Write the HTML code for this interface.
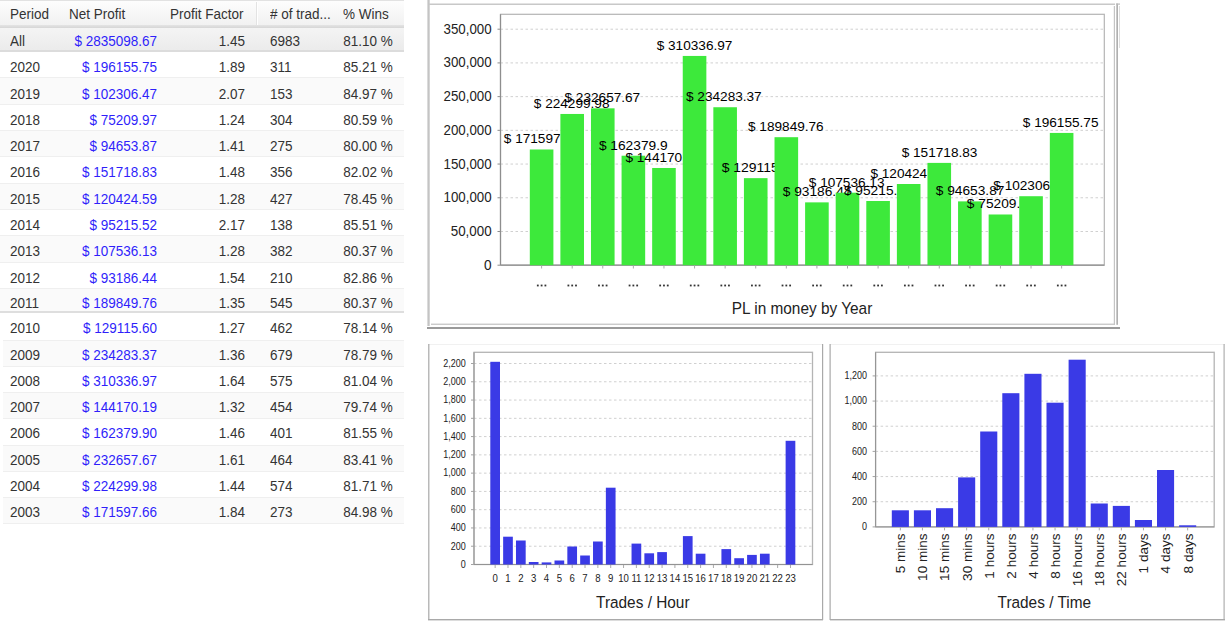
<!DOCTYPE html>
<html><head><meta charset="utf-8"><style>
html,body{margin:0;padding:0;background:#fff;width:1230px;height:629px;overflow:hidden;position:relative}
body{font-family:"Liberation Sans", sans-serif}
.t{position:absolute;white-space:nowrap;line-height:1;font-family:"Liberation Sans", sans-serif;transform:scaleY(1.08)}
svg{position:absolute;left:0;top:0}
svg text{font-family:"Liberation Sans", sans-serif}
</style></head><body>
<div style="position:absolute;left:0;top:0;width:404px;height:1px;background:#e2e2e2"></div><div style="position:absolute;left:0;top:1px;width:404px;height:24px;background:linear-gradient(#fdfdfd,#f1f1f1)"></div><div style="position:absolute;left:0;top:25px;width:404px;height:3px;background:linear-gradient(#e4e4e4,#d6d6d6)"></div><div style="position:absolute;left:256px;top:2px;width:1px;height:23px;background:#e3e3e3"></div><div style="position:absolute;left:257px;top:2px;width:1px;height:23px;background:#ffffff"></div><div class="t" style="left:10px;top:8.47px;color:#333;font-size:13.5px;transform-origin:0 11.43px">Period</div><div class="t" style="left:69px;top:8.47px;color:#333;font-size:13.5px;transform-origin:0 11.43px">Net Profit</div><div class="t" style="left:170px;top:8.47px;color:#333;font-size:13.5px;transform-origin:0 11.43px">Profit Factor</div><div class="t" style="left:270px;top:8.47px;color:#333;font-size:13.5px;transform-origin:0 11.43px"># of trad...</div><div class="t" style="left:343px;top:8.47px;color:#333;font-size:13.5px;transform-origin:0 11.43px">% Wins</div><div style="position:absolute;left:0;top:28px;width:404px;height:22.5px;background:linear-gradient(#f4f4f4,#ebebeb)"></div><div style="position:absolute;left:0;top:50.3px;width:404px;height:1.6px;background:#dcdcdc"></div><div class="t" style="left:10px;top:34.67px;color:#333;font-size:13.5px;transform-origin:0 11.43px">All</div><div class="t" style="right:1073px;top:34.67px;color:#2f1ffa;font-size:13.5px;text-align:right;transform-origin:0 11.43px">$ 2835098.67</div><div class="t" style="right:985px;top:34.67px;color:#333;font-size:13.5px;text-align:right;transform-origin:0 11.43px">1.45</div><div class="t" style="left:270px;top:34.67px;color:#333;font-size:13.5px;transform-origin:0 11.43px">6983</div><div class="t" style="right:837.2px;top:34.67px;color:#333;font-size:13.5px;text-align:right;transform-origin:0 11.43px">81.10 %</div><div style="position:absolute;left:0px;top:51.90px;width:404px;height:26.00px;background:#ffffff"></div><div style="position:absolute;left:0px;top:77.40px;width:404px;height:1px;background:#efefef"></div><div class="t" style="left:10px;top:61.27px;color:#333;font-size:13.5px;transform-origin:0 11.43px">2020</div><div class="t" style="right:1073px;top:61.27px;color:#2f1ffa;font-size:13.5px;text-align:right;transform-origin:0 11.43px">$ 196155.75</div><div class="t" style="right:985px;top:61.27px;color:#333;font-size:13.5px;text-align:right;transform-origin:0 11.43px">1.89</div><div class="t" style="left:270px;top:61.27px;color:#333;font-size:13.5px;transform-origin:0 11.43px">311</div><div class="t" style="right:837.2px;top:61.27px;color:#333;font-size:13.5px;text-align:right;transform-origin:0 11.43px">85.21 %</div><div style="position:absolute;left:0px;top:78.40px;width:404px;height:25.80px;background:#fafafa"></div><div style="position:absolute;left:0px;top:103.70px;width:404px;height:1px;background:#efefef"></div><div class="t" style="left:10px;top:87.57px;color:#333;font-size:13.5px;transform-origin:0 11.43px">2019</div><div class="t" style="right:1073px;top:87.57px;color:#2f1ffa;font-size:13.5px;text-align:right;transform-origin:0 11.43px">$ 102306.47</div><div class="t" style="right:985px;top:87.57px;color:#333;font-size:13.5px;text-align:right;transform-origin:0 11.43px">2.07</div><div class="t" style="left:270px;top:87.57px;color:#333;font-size:13.5px;transform-origin:0 11.43px">153</div><div class="t" style="right:837.2px;top:87.57px;color:#333;font-size:13.5px;text-align:right;transform-origin:0 11.43px">84.97 %</div><div style="position:absolute;left:0px;top:104.70px;width:404px;height:25.80px;background:#ffffff"></div><div style="position:absolute;left:0px;top:130.00px;width:404px;height:1px;background:#efefef"></div><div class="t" style="left:10px;top:113.87px;color:#333;font-size:13.5px;transform-origin:0 11.43px">2018</div><div class="t" style="right:1073px;top:113.87px;color:#2f1ffa;font-size:13.5px;text-align:right;transform-origin:0 11.43px">$ 75209.97</div><div class="t" style="right:985px;top:113.87px;color:#333;font-size:13.5px;text-align:right;transform-origin:0 11.43px">1.24</div><div class="t" style="left:270px;top:113.87px;color:#333;font-size:13.5px;transform-origin:0 11.43px">304</div><div class="t" style="right:837.2px;top:113.87px;color:#333;font-size:13.5px;text-align:right;transform-origin:0 11.43px">80.59 %</div><div style="position:absolute;left:0px;top:131.00px;width:404px;height:25.80px;background:#fafafa"></div><div style="position:absolute;left:0px;top:156.30px;width:404px;height:1px;background:#efefef"></div><div class="t" style="left:10px;top:140.17px;color:#333;font-size:13.5px;transform-origin:0 11.43px">2017</div><div class="t" style="right:1073px;top:140.17px;color:#2f1ffa;font-size:13.5px;text-align:right;transform-origin:0 11.43px">$ 94653.87</div><div class="t" style="right:985px;top:140.17px;color:#333;font-size:13.5px;text-align:right;transform-origin:0 11.43px">1.41</div><div class="t" style="left:270px;top:140.17px;color:#333;font-size:13.5px;transform-origin:0 11.43px">275</div><div class="t" style="right:837.2px;top:140.17px;color:#333;font-size:13.5px;text-align:right;transform-origin:0 11.43px">80.00 %</div><div style="position:absolute;left:0px;top:157.30px;width:404px;height:25.80px;background:#ffffff"></div><div style="position:absolute;left:0px;top:182.60px;width:404px;height:1px;background:#efefef"></div><div class="t" style="left:10px;top:166.47px;color:#333;font-size:13.5px;transform-origin:0 11.43px">2016</div><div class="t" style="right:1073px;top:166.47px;color:#2f1ffa;font-size:13.5px;text-align:right;transform-origin:0 11.43px">$ 151718.83</div><div class="t" style="right:985px;top:166.47px;color:#333;font-size:13.5px;text-align:right;transform-origin:0 11.43px">1.48</div><div class="t" style="left:270px;top:166.47px;color:#333;font-size:13.5px;transform-origin:0 11.43px">356</div><div class="t" style="right:837.2px;top:166.47px;color:#333;font-size:13.5px;text-align:right;transform-origin:0 11.43px">82.02 %</div><div style="position:absolute;left:0px;top:183.60px;width:404px;height:25.80px;background:#fafafa"></div><div style="position:absolute;left:0px;top:208.90px;width:404px;height:1px;background:#efefef"></div><div class="t" style="left:10px;top:192.77px;color:#333;font-size:13.5px;transform-origin:0 11.43px">2015</div><div class="t" style="right:1073px;top:192.77px;color:#2f1ffa;font-size:13.5px;text-align:right;transform-origin:0 11.43px">$ 120424.59</div><div class="t" style="right:985px;top:192.77px;color:#333;font-size:13.5px;text-align:right;transform-origin:0 11.43px">1.28</div><div class="t" style="left:270px;top:192.77px;color:#333;font-size:13.5px;transform-origin:0 11.43px">427</div><div class="t" style="right:837.2px;top:192.77px;color:#333;font-size:13.5px;text-align:right;transform-origin:0 11.43px">78.45 %</div><div style="position:absolute;left:0px;top:209.90px;width:404px;height:25.80px;background:#ffffff"></div><div style="position:absolute;left:0px;top:235.20px;width:404px;height:1px;background:#efefef"></div><div class="t" style="left:10px;top:219.07px;color:#333;font-size:13.5px;transform-origin:0 11.43px">2014</div><div class="t" style="right:1073px;top:219.07px;color:#2f1ffa;font-size:13.5px;text-align:right;transform-origin:0 11.43px">$ 95215.52</div><div class="t" style="right:985px;top:219.07px;color:#333;font-size:13.5px;text-align:right;transform-origin:0 11.43px">2.17</div><div class="t" style="left:270px;top:219.07px;color:#333;font-size:13.5px;transform-origin:0 11.43px">138</div><div class="t" style="right:837.2px;top:219.07px;color:#333;font-size:13.5px;text-align:right;transform-origin:0 11.43px">85.51 %</div><div style="position:absolute;left:0px;top:236.20px;width:404px;height:25.80px;background:#fafafa"></div><div style="position:absolute;left:0px;top:261.50px;width:404px;height:1px;background:#efefef"></div><div class="t" style="left:10px;top:245.37px;color:#333;font-size:13.5px;transform-origin:0 11.43px">2013</div><div class="t" style="right:1073px;top:245.37px;color:#2f1ffa;font-size:13.5px;text-align:right;transform-origin:0 11.43px">$ 107536.13</div><div class="t" style="right:985px;top:245.37px;color:#333;font-size:13.5px;text-align:right;transform-origin:0 11.43px">1.28</div><div class="t" style="left:270px;top:245.37px;color:#333;font-size:13.5px;transform-origin:0 11.43px">382</div><div class="t" style="right:837.2px;top:245.37px;color:#333;font-size:13.5px;text-align:right;transform-origin:0 11.43px">80.37 %</div><div style="position:absolute;left:0px;top:262.50px;width:404px;height:25.80px;background:#ffffff"></div><div style="position:absolute;left:0px;top:287.80px;width:404px;height:1px;background:#efefef"></div><div class="t" style="left:10px;top:271.67px;color:#333;font-size:13.5px;transform-origin:0 11.43px">2012</div><div class="t" style="right:1073px;top:271.67px;color:#2f1ffa;font-size:13.5px;text-align:right;transform-origin:0 11.43px">$ 93186.44</div><div class="t" style="right:985px;top:271.67px;color:#333;font-size:13.5px;text-align:right;transform-origin:0 11.43px">1.54</div><div class="t" style="left:270px;top:271.67px;color:#333;font-size:13.5px;transform-origin:0 11.43px">210</div><div class="t" style="right:837.2px;top:271.67px;color:#333;font-size:13.5px;text-align:right;transform-origin:0 11.43px">82.86 %</div><div style="position:absolute;left:0px;top:288.80px;width:404px;height:23.50px;background:#fafafa"></div><div style="position:absolute;left:0px;top:311.30px;width:404px;height:2px;background:#dedede"></div><div class="t" style="left:10px;top:296.87px;color:#333;font-size:13.5px;transform-origin:0 11.43px">2011</div><div class="t" style="right:1073px;top:296.87px;color:#2f1ffa;font-size:13.5px;text-align:right;transform-origin:0 11.43px">$ 189849.76</div><div class="t" style="right:985px;top:296.87px;color:#333;font-size:13.5px;text-align:right;transform-origin:0 11.43px">1.35</div><div class="t" style="left:270px;top:296.87px;color:#333;font-size:13.5px;transform-origin:0 11.43px">545</div><div class="t" style="right:837.2px;top:296.87px;color:#333;font-size:13.5px;text-align:right;transform-origin:0 11.43px">80.37 %</div><div style="position:absolute;left:3px;top:313.30px;width:401px;height:26.70px;background:#ffffff"></div><div style="position:absolute;left:3px;top:339.50px;width:401px;height:1px;background:#efefef"></div><div class="t" style="left:10px;top:322.27px;color:#333;font-size:13.5px;transform-origin:0 11.43px">2010</div><div class="t" style="right:1073px;top:322.27px;color:#2f1ffa;font-size:13.5px;text-align:right;transform-origin:0 11.43px">$ 129115.60</div><div class="t" style="right:985px;top:322.27px;color:#333;font-size:13.5px;text-align:right;transform-origin:0 11.43px">1.27</div><div class="t" style="left:270px;top:322.27px;color:#333;font-size:13.5px;transform-origin:0 11.43px">462</div><div class="t" style="right:837.2px;top:322.27px;color:#333;font-size:13.5px;text-align:right;transform-origin:0 11.43px">78.14 %</div><div style="position:absolute;left:3px;top:340.50px;width:401px;height:25.77px;background:#fafafa"></div><div style="position:absolute;left:3px;top:365.77px;width:401px;height:1px;background:#efefef"></div><div class="t" style="left:10px;top:348.54px;color:#333;font-size:13.5px;transform-origin:0 11.43px">2009</div><div class="t" style="right:1073px;top:348.54px;color:#2f1ffa;font-size:13.5px;text-align:right;transform-origin:0 11.43px">$ 234283.37</div><div class="t" style="right:985px;top:348.54px;color:#333;font-size:13.5px;text-align:right;transform-origin:0 11.43px">1.36</div><div class="t" style="left:270px;top:348.54px;color:#333;font-size:13.5px;transform-origin:0 11.43px">679</div><div class="t" style="right:837.2px;top:348.54px;color:#333;font-size:13.5px;text-align:right;transform-origin:0 11.43px">78.79 %</div><div style="position:absolute;left:3px;top:366.77px;width:401px;height:25.77px;background:#ffffff"></div><div style="position:absolute;left:3px;top:392.04px;width:401px;height:1px;background:#efefef"></div><div class="t" style="left:10px;top:374.81px;color:#333;font-size:13.5px;transform-origin:0 11.43px">2008</div><div class="t" style="right:1073px;top:374.81px;color:#2f1ffa;font-size:13.5px;text-align:right;transform-origin:0 11.43px">$ 310336.97</div><div class="t" style="right:985px;top:374.81px;color:#333;font-size:13.5px;text-align:right;transform-origin:0 11.43px">1.64</div><div class="t" style="left:270px;top:374.81px;color:#333;font-size:13.5px;transform-origin:0 11.43px">575</div><div class="t" style="right:837.2px;top:374.81px;color:#333;font-size:13.5px;text-align:right;transform-origin:0 11.43px">81.04 %</div><div style="position:absolute;left:3px;top:393.04px;width:401px;height:25.77px;background:#fafafa"></div><div style="position:absolute;left:3px;top:418.31px;width:401px;height:1px;background:#efefef"></div><div class="t" style="left:10px;top:401.08px;color:#333;font-size:13.5px;transform-origin:0 11.43px">2007</div><div class="t" style="right:1073px;top:401.08px;color:#2f1ffa;font-size:13.5px;text-align:right;transform-origin:0 11.43px">$ 144170.19</div><div class="t" style="right:985px;top:401.08px;color:#333;font-size:13.5px;text-align:right;transform-origin:0 11.43px">1.32</div><div class="t" style="left:270px;top:401.08px;color:#333;font-size:13.5px;transform-origin:0 11.43px">454</div><div class="t" style="right:837.2px;top:401.08px;color:#333;font-size:13.5px;text-align:right;transform-origin:0 11.43px">79.74 %</div><div style="position:absolute;left:3px;top:419.31px;width:401px;height:25.77px;background:#ffffff"></div><div style="position:absolute;left:3px;top:444.58px;width:401px;height:1px;background:#efefef"></div><div class="t" style="left:10px;top:427.35px;color:#333;font-size:13.5px;transform-origin:0 11.43px">2006</div><div class="t" style="right:1073px;top:427.35px;color:#2f1ffa;font-size:13.5px;text-align:right;transform-origin:0 11.43px">$ 162379.90</div><div class="t" style="right:985px;top:427.35px;color:#333;font-size:13.5px;text-align:right;transform-origin:0 11.43px">1.46</div><div class="t" style="left:270px;top:427.35px;color:#333;font-size:13.5px;transform-origin:0 11.43px">401</div><div class="t" style="right:837.2px;top:427.35px;color:#333;font-size:13.5px;text-align:right;transform-origin:0 11.43px">81.55 %</div><div style="position:absolute;left:3px;top:445.58px;width:401px;height:25.77px;background:#fafafa"></div><div style="position:absolute;left:3px;top:470.85px;width:401px;height:1px;background:#efefef"></div><div class="t" style="left:10px;top:453.62px;color:#333;font-size:13.5px;transform-origin:0 11.43px">2005</div><div class="t" style="right:1073px;top:453.62px;color:#2f1ffa;font-size:13.5px;text-align:right;transform-origin:0 11.43px">$ 232657.67</div><div class="t" style="right:985px;top:453.62px;color:#333;font-size:13.5px;text-align:right;transform-origin:0 11.43px">1.61</div><div class="t" style="left:270px;top:453.62px;color:#333;font-size:13.5px;transform-origin:0 11.43px">464</div><div class="t" style="right:837.2px;top:453.62px;color:#333;font-size:13.5px;text-align:right;transform-origin:0 11.43px">83.41 %</div><div style="position:absolute;left:3px;top:471.85px;width:401px;height:25.77px;background:#ffffff"></div><div style="position:absolute;left:3px;top:497.12px;width:401px;height:1px;background:#efefef"></div><div class="t" style="left:10px;top:479.89px;color:#333;font-size:13.5px;transform-origin:0 11.43px">2004</div><div class="t" style="right:1073px;top:479.89px;color:#2f1ffa;font-size:13.5px;text-align:right;transform-origin:0 11.43px">$ 224299.98</div><div class="t" style="right:985px;top:479.89px;color:#333;font-size:13.5px;text-align:right;transform-origin:0 11.43px">1.44</div><div class="t" style="left:270px;top:479.89px;color:#333;font-size:13.5px;transform-origin:0 11.43px">574</div><div class="t" style="right:837.2px;top:479.89px;color:#333;font-size:13.5px;text-align:right;transform-origin:0 11.43px">81.71 %</div><div style="position:absolute;left:3px;top:498.12px;width:401px;height:25.77px;background:#fafafa"></div><div style="position:absolute;left:3px;top:523.39px;width:401px;height:1px;background:#efefef"></div><div class="t" style="left:10px;top:506.16px;color:#333;font-size:13.5px;transform-origin:0 11.43px">2003</div><div class="t" style="right:1073px;top:506.16px;color:#2f1ffa;font-size:13.5px;text-align:right;transform-origin:0 11.43px">$ 171597.66</div><div class="t" style="right:985px;top:506.16px;color:#333;font-size:13.5px;text-align:right;transform-origin:0 11.43px">1.84</div><div class="t" style="left:270px;top:506.16px;color:#333;font-size:13.5px;transform-origin:0 11.43px">273</div><div class="t" style="right:837.2px;top:506.16px;color:#333;font-size:13.5px;text-align:right;transform-origin:0 11.43px">84.98 %</div>
<svg width="1230" height="629" viewBox="0 0 1230 629"><rect x="427.4" y="0" width="2.3" height="326" fill="#c4c4c4"/><rect x="429" y="3.5" width="686" height="1.5" fill="#c8c8c8"/><rect x="1113.8" y="6" width="1.2" height="319" fill="#c4c4c4"/><rect x="431" y="323.6" width="684" height="1.3" fill="#c6c6c6"/><rect x="1116.4" y="3.5" width="1.5" height="321.3" fill="#a8a8a8"/><rect x="1116" y="3.5" width="4" height="1.2" fill="#bbbbbb"/><rect x="1119" y="6" width="1" height="42" fill="#dddddd"/><rect x="427" y="327" width="693" height="2" fill="#9a9a9a"/><line x1="497.5" y1="265.20" x2="500.5" y2="265.20" stroke="#8c8c8c" stroke-width="1"/><text transform="translate(491.60 269.75) scale(1 1.1)" text-anchor="end" font-size="13.2" fill="#222" textLength="7.6" lengthAdjust="spacingAndGlyphs">0</text><line x1="500.5" y1="231.49" x2="1104.3" y2="231.49" stroke="#d0d0d0" stroke-width="1" stroke-dasharray="2.5 2.5"/><line x1="497.5" y1="231.49" x2="500.5" y2="231.49" stroke="#8c8c8c" stroke-width="1"/><text transform="translate(491.60 236.03) scale(1 1.1)" text-anchor="end" font-size="13.2" fill="#222" textLength="40.9" lengthAdjust="spacingAndGlyphs">50,000</text><line x1="500.5" y1="197.77" x2="1104.3" y2="197.77" stroke="#d0d0d0" stroke-width="1" stroke-dasharray="2.5 2.5"/><line x1="497.5" y1="197.77" x2="500.5" y2="197.77" stroke="#8c8c8c" stroke-width="1"/><text transform="translate(491.60 202.32) scale(1 1.1)" text-anchor="end" font-size="13.2" fill="#222" textLength="48.1" lengthAdjust="spacingAndGlyphs">100,000</text><line x1="500.5" y1="164.06" x2="1104.3" y2="164.06" stroke="#d0d0d0" stroke-width="1" stroke-dasharray="2.5 2.5"/><line x1="497.5" y1="164.06" x2="500.5" y2="164.06" stroke="#8c8c8c" stroke-width="1"/><text transform="translate(491.60 168.61) scale(1 1.1)" text-anchor="end" font-size="13.2" fill="#222" textLength="48.1" lengthAdjust="spacingAndGlyphs">150,000</text><line x1="500.5" y1="130.34" x2="1104.3" y2="130.34" stroke="#d0d0d0" stroke-width="1" stroke-dasharray="2.5 2.5"/><line x1="497.5" y1="130.34" x2="500.5" y2="130.34" stroke="#8c8c8c" stroke-width="1"/><text transform="translate(491.60 134.89) scale(1 1.1)" text-anchor="end" font-size="13.2" fill="#222" textLength="48.1" lengthAdjust="spacingAndGlyphs">200,000</text><line x1="500.5" y1="96.63" x2="1104.3" y2="96.63" stroke="#d0d0d0" stroke-width="1" stroke-dasharray="2.5 2.5"/><line x1="497.5" y1="96.63" x2="500.5" y2="96.63" stroke="#8c8c8c" stroke-width="1"/><text transform="translate(491.60 101.18) scale(1 1.1)" text-anchor="end" font-size="13.2" fill="#222" textLength="48.1" lengthAdjust="spacingAndGlyphs">250,000</text><line x1="500.5" y1="62.91" x2="1104.3" y2="62.91" stroke="#d0d0d0" stroke-width="1" stroke-dasharray="2.5 2.5"/><line x1="497.5" y1="62.91" x2="500.5" y2="62.91" stroke="#8c8c8c" stroke-width="1"/><text transform="translate(491.60 67.46) scale(1 1.1)" text-anchor="end" font-size="13.2" fill="#222" textLength="48.1" lengthAdjust="spacingAndGlyphs">300,000</text><line x1="500.5" y1="29.20" x2="1104.3" y2="29.20" stroke="#d0d0d0" stroke-width="1" stroke-dasharray="2.5 2.5"/><line x1="497.5" y1="29.20" x2="500.5" y2="29.20" stroke="#8c8c8c" stroke-width="1"/><text transform="translate(491.60 33.75) scale(1 1.1)" text-anchor="end" font-size="13.2" fill="#222" textLength="48.1" lengthAdjust="spacingAndGlyphs">350,000</text><rect x="500.5" y="14.3" width="603.8" height="250.89999999999998" fill="none" stroke="#b4b4b4" stroke-width="1.2"/><line x1="500.5" y1="14.3" x2="500.5" y2="265.2" stroke="#8e8e8e" stroke-width="1.2"/><line x1="500.5" y1="265.2" x2="1104.3" y2="265.2" stroke="#8e8e8e" stroke-width="1.2"/><rect x="529.80" y="149.49" width="23.6" height="115.71" fill="#3de93b"/><text transform="translate(503.80 143.49) scale(1 1.0)" text-anchor="start" font-size="12.6" fill="#000" textLength="75.7" lengthAdjust="spacingAndGlyphs">$ 171597.66</text><rect x="560.39" y="113.96" width="23.6" height="151.24" fill="#3de93b"/><text transform="translate(533.80 107.96) scale(1 1.0)" text-anchor="start" font-size="12.6" fill="#000" textLength="75.7" lengthAdjust="spacingAndGlyphs">$ 224299.98</text><rect x="590.98" y="108.32" width="23.6" height="156.88" fill="#3de93b"/><text transform="translate(564.50 102.32) scale(1 1.0)" text-anchor="start" font-size="12.6" fill="#000" textLength="75.7" lengthAdjust="spacingAndGlyphs">$ 232657.67</text><rect x="621.57" y="155.71" width="23.6" height="109.49" fill="#3de93b"/><text transform="translate(598.90 149.71) scale(1 1.0)" text-anchor="start" font-size="12.6" fill="#000" textLength="68.7" lengthAdjust="spacingAndGlyphs">$ 162379.9</text><rect x="652.16" y="167.99" width="23.6" height="97.21" fill="#3de93b"/><text transform="translate(625.40 161.99) scale(1 1.0)" text-anchor="start" font-size="12.6" fill="#000" textLength="75.7" lengthAdjust="spacingAndGlyphs">$ 144170.19</text><rect x="682.75" y="55.94" width="23.6" height="209.26" fill="#3de93b"/><text transform="translate(656.70 49.94) scale(1 1.0)" text-anchor="start" font-size="12.6" fill="#000" textLength="75.7" lengthAdjust="spacingAndGlyphs">$ 310336.97</text><rect x="713.34" y="107.23" width="23.6" height="157.97" fill="#3de93b"/><text transform="translate(686.00 101.23) scale(1 1.0)" text-anchor="start" font-size="12.6" fill="#000" textLength="75.7" lengthAdjust="spacingAndGlyphs">$ 234283.37</text><rect x="743.93" y="178.14" width="23.6" height="87.06" fill="#3de93b"/><text transform="translate(721.70 172.14) scale(1 1.0)" text-anchor="start" font-size="12.6" fill="#000" textLength="68.7" lengthAdjust="spacingAndGlyphs">$ 129115.6</text><rect x="774.52" y="137.19" width="23.6" height="128.01" fill="#3de93b"/><text transform="translate(748.00 131.19) scale(1 1.0)" text-anchor="start" font-size="12.6" fill="#000" textLength="75.7" lengthAdjust="spacingAndGlyphs">$ 189849.76</text><rect x="805.11" y="202.37" width="23.6" height="62.83" fill="#3de93b"/><text transform="translate(782.70 196.37) scale(1 1.0)" text-anchor="start" font-size="12.6" fill="#000" textLength="68.7" lengthAdjust="spacingAndGlyphs">$ 93186.44</text><rect x="835.70" y="192.69" width="23.6" height="72.51" fill="#3de93b"/><text transform="translate(808.80 186.69) scale(1 1.0)" text-anchor="start" font-size="12.6" fill="#000" textLength="75.7" lengthAdjust="spacingAndGlyphs">$ 107536.13</text><rect x="866.29" y="201.00" width="23.6" height="64.20" fill="#3de93b"/><text transform="translate(843.90 195.00) scale(1 1.0)" text-anchor="start" font-size="12.6" fill="#000" textLength="68.7" lengthAdjust="spacingAndGlyphs">$ 95215.52</text><rect x="896.88" y="184.00" width="23.6" height="81.20" fill="#3de93b"/><text transform="translate(870.40 178.00) scale(1 1.0)" text-anchor="start" font-size="12.6" fill="#000" textLength="75.7" lengthAdjust="spacingAndGlyphs">$ 120424.59</text><rect x="927.47" y="162.90" width="23.6" height="102.30" fill="#3de93b"/><text transform="translate(901.70 156.90) scale(1 1.0)" text-anchor="start" font-size="12.6" fill="#000" textLength="75.7" lengthAdjust="spacingAndGlyphs">$ 151718.83</text><rect x="958.06" y="201.38" width="23.6" height="63.82" fill="#3de93b"/><text transform="translate(935.70 195.38) scale(1 1.0)" text-anchor="start" font-size="12.6" fill="#000" textLength="68.7" lengthAdjust="spacingAndGlyphs">$ 94653.87</text><rect x="988.65" y="214.49" width="23.6" height="50.71" fill="#3de93b"/><text transform="translate(966.80 208.49) scale(1 1.0)" text-anchor="start" font-size="12.6" fill="#000" textLength="68.7" lengthAdjust="spacingAndGlyphs">$ 75209.97</text><rect x="1019.24" y="196.22" width="23.6" height="68.98" fill="#3de93b"/><text transform="translate(993.30 190.22) scale(1 1.0)" text-anchor="start" font-size="12.6" fill="#000" textLength="75.7" lengthAdjust="spacingAndGlyphs">$ 102306.47</text><rect x="1049.83" y="132.93" width="23.6" height="132.27" fill="#3de93b"/><text transform="translate(1022.80 126.93) scale(1 1.0)" text-anchor="start" font-size="12.6" fill="#000" textLength="75.7" lengthAdjust="spacingAndGlyphs">$ 196155.75</text><line x1="541.60" y1="265.5" x2="541.60" y2="268.5" stroke="#aaa" stroke-width="1"/><rect x="536.90" y="284.6" width="1.8" height="1.8" fill="#333"/><rect x="540.70" y="284.6" width="1.8" height="1.8" fill="#333"/><rect x="544.50" y="284.6" width="1.8" height="1.8" fill="#333"/><line x1="572.19" y1="265.5" x2="572.19" y2="268.5" stroke="#aaa" stroke-width="1"/><rect x="567.49" y="284.6" width="1.8" height="1.8" fill="#333"/><rect x="571.29" y="284.6" width="1.8" height="1.8" fill="#333"/><rect x="575.09" y="284.6" width="1.8" height="1.8" fill="#333"/><line x1="602.78" y1="265.5" x2="602.78" y2="268.5" stroke="#aaa" stroke-width="1"/><rect x="598.08" y="284.6" width="1.8" height="1.8" fill="#333"/><rect x="601.88" y="284.6" width="1.8" height="1.8" fill="#333"/><rect x="605.68" y="284.6" width="1.8" height="1.8" fill="#333"/><line x1="633.37" y1="265.5" x2="633.37" y2="268.5" stroke="#aaa" stroke-width="1"/><rect x="628.67" y="284.6" width="1.8" height="1.8" fill="#333"/><rect x="632.47" y="284.6" width="1.8" height="1.8" fill="#333"/><rect x="636.27" y="284.6" width="1.8" height="1.8" fill="#333"/><line x1="663.96" y1="265.5" x2="663.96" y2="268.5" stroke="#aaa" stroke-width="1"/><rect x="659.26" y="284.6" width="1.8" height="1.8" fill="#333"/><rect x="663.06" y="284.6" width="1.8" height="1.8" fill="#333"/><rect x="666.86" y="284.6" width="1.8" height="1.8" fill="#333"/><line x1="694.55" y1="265.5" x2="694.55" y2="268.5" stroke="#aaa" stroke-width="1"/><rect x="689.85" y="284.6" width="1.8" height="1.8" fill="#333"/><rect x="693.65" y="284.6" width="1.8" height="1.8" fill="#333"/><rect x="697.45" y="284.6" width="1.8" height="1.8" fill="#333"/><line x1="725.14" y1="265.5" x2="725.14" y2="268.5" stroke="#aaa" stroke-width="1"/><rect x="720.44" y="284.6" width="1.8" height="1.8" fill="#333"/><rect x="724.24" y="284.6" width="1.8" height="1.8" fill="#333"/><rect x="728.04" y="284.6" width="1.8" height="1.8" fill="#333"/><line x1="755.73" y1="265.5" x2="755.73" y2="268.5" stroke="#aaa" stroke-width="1"/><rect x="751.03" y="284.6" width="1.8" height="1.8" fill="#333"/><rect x="754.83" y="284.6" width="1.8" height="1.8" fill="#333"/><rect x="758.63" y="284.6" width="1.8" height="1.8" fill="#333"/><line x1="786.32" y1="265.5" x2="786.32" y2="268.5" stroke="#aaa" stroke-width="1"/><rect x="781.62" y="284.6" width="1.8" height="1.8" fill="#333"/><rect x="785.42" y="284.6" width="1.8" height="1.8" fill="#333"/><rect x="789.22" y="284.6" width="1.8" height="1.8" fill="#333"/><line x1="816.91" y1="265.5" x2="816.91" y2="268.5" stroke="#aaa" stroke-width="1"/><rect x="812.21" y="284.6" width="1.8" height="1.8" fill="#333"/><rect x="816.01" y="284.6" width="1.8" height="1.8" fill="#333"/><rect x="819.81" y="284.6" width="1.8" height="1.8" fill="#333"/><line x1="847.50" y1="265.5" x2="847.50" y2="268.5" stroke="#aaa" stroke-width="1"/><rect x="842.80" y="284.6" width="1.8" height="1.8" fill="#333"/><rect x="846.60" y="284.6" width="1.8" height="1.8" fill="#333"/><rect x="850.40" y="284.6" width="1.8" height="1.8" fill="#333"/><line x1="878.09" y1="265.5" x2="878.09" y2="268.5" stroke="#aaa" stroke-width="1"/><rect x="873.39" y="284.6" width="1.8" height="1.8" fill="#333"/><rect x="877.19" y="284.6" width="1.8" height="1.8" fill="#333"/><rect x="880.99" y="284.6" width="1.8" height="1.8" fill="#333"/><line x1="908.68" y1="265.5" x2="908.68" y2="268.5" stroke="#aaa" stroke-width="1"/><rect x="903.98" y="284.6" width="1.8" height="1.8" fill="#333"/><rect x="907.78" y="284.6" width="1.8" height="1.8" fill="#333"/><rect x="911.58" y="284.6" width="1.8" height="1.8" fill="#333"/><line x1="939.27" y1="265.5" x2="939.27" y2="268.5" stroke="#aaa" stroke-width="1"/><rect x="934.57" y="284.6" width="1.8" height="1.8" fill="#333"/><rect x="938.37" y="284.6" width="1.8" height="1.8" fill="#333"/><rect x="942.17" y="284.6" width="1.8" height="1.8" fill="#333"/><line x1="969.86" y1="265.5" x2="969.86" y2="268.5" stroke="#aaa" stroke-width="1"/><rect x="965.16" y="284.6" width="1.8" height="1.8" fill="#333"/><rect x="968.96" y="284.6" width="1.8" height="1.8" fill="#333"/><rect x="972.76" y="284.6" width="1.8" height="1.8" fill="#333"/><line x1="1000.45" y1="265.5" x2="1000.45" y2="268.5" stroke="#aaa" stroke-width="1"/><rect x="995.75" y="284.6" width="1.8" height="1.8" fill="#333"/><rect x="999.55" y="284.6" width="1.8" height="1.8" fill="#333"/><rect x="1003.35" y="284.6" width="1.8" height="1.8" fill="#333"/><line x1="1031.04" y1="265.5" x2="1031.04" y2="268.5" stroke="#aaa" stroke-width="1"/><rect x="1026.34" y="284.6" width="1.8" height="1.8" fill="#333"/><rect x="1030.14" y="284.6" width="1.8" height="1.8" fill="#333"/><rect x="1033.94" y="284.6" width="1.8" height="1.8" fill="#333"/><line x1="1061.63" y1="265.5" x2="1061.63" y2="268.5" stroke="#aaa" stroke-width="1"/><rect x="1056.93" y="284.6" width="1.8" height="1.8" fill="#333"/><rect x="1060.73" y="284.6" width="1.8" height="1.8" fill="#333"/><rect x="1064.53" y="284.6" width="1.8" height="1.8" fill="#333"/><text transform="translate(802.00 314.00) scale(1 1.1)" text-anchor="middle" font-size="15.4" fill="#222">PL in money by Year</text><rect x="428" y="344" width="395" height="0.8" fill="#eeeeee"/><rect x="428.2" y="344" width="1.2" height="276" fill="#a9a9a9"/><rect x="822" y="344" width="1.2" height="276" fill="#a9a9a9"/><rect x="428" y="619" width="395" height="1.4" fill="#a9a9a9"/><line x1="471" y1="564.50" x2="474" y2="564.50" stroke="#8c8c8c" stroke-width="0.8"/><text transform="translate(465.70 567.80) scale(1 1.18)" text-anchor="end" font-size="9" fill="#222">0</text><line x1="474" y1="546.23" x2="812.5" y2="546.23" stroke="#d0d0d0" stroke-width="1" stroke-dasharray="2.5 2.5"/><line x1="471" y1="546.23" x2="474" y2="546.23" stroke="#8c8c8c" stroke-width="0.8"/><text transform="translate(465.70 549.53) scale(1 1.18)" text-anchor="end" font-size="9" fill="#222">200</text><line x1="474" y1="527.95" x2="812.5" y2="527.95" stroke="#d0d0d0" stroke-width="1" stroke-dasharray="2.5 2.5"/><line x1="471" y1="527.95" x2="474" y2="527.95" stroke="#8c8c8c" stroke-width="0.8"/><text transform="translate(465.70 531.26) scale(1 1.18)" text-anchor="end" font-size="9" fill="#222">400</text><line x1="474" y1="509.68" x2="812.5" y2="509.68" stroke="#d0d0d0" stroke-width="1" stroke-dasharray="2.5 2.5"/><line x1="471" y1="509.68" x2="474" y2="509.68" stroke="#8c8c8c" stroke-width="0.8"/><text transform="translate(465.70 512.98) scale(1 1.18)" text-anchor="end" font-size="9" fill="#222">600</text><line x1="474" y1="491.41" x2="812.5" y2="491.41" stroke="#d0d0d0" stroke-width="1" stroke-dasharray="2.5 2.5"/><line x1="471" y1="491.41" x2="474" y2="491.41" stroke="#8c8c8c" stroke-width="0.8"/><text transform="translate(465.70 494.71) scale(1 1.18)" text-anchor="end" font-size="9" fill="#222">800</text><line x1="474" y1="473.14" x2="812.5" y2="473.14" stroke="#d0d0d0" stroke-width="1" stroke-dasharray="2.5 2.5"/><line x1="471" y1="473.14" x2="474" y2="473.14" stroke="#8c8c8c" stroke-width="0.8"/><text transform="translate(465.70 476.44) scale(1 1.18)" text-anchor="end" font-size="9" fill="#222">1,000</text><line x1="474" y1="454.86" x2="812.5" y2="454.86" stroke="#d0d0d0" stroke-width="1" stroke-dasharray="2.5 2.5"/><line x1="471" y1="454.86" x2="474" y2="454.86" stroke="#8c8c8c" stroke-width="0.8"/><text transform="translate(465.70 458.17) scale(1 1.18)" text-anchor="end" font-size="9" fill="#222">1,200</text><line x1="474" y1="436.59" x2="812.5" y2="436.59" stroke="#d0d0d0" stroke-width="1" stroke-dasharray="2.5 2.5"/><line x1="471" y1="436.59" x2="474" y2="436.59" stroke="#8c8c8c" stroke-width="0.8"/><text transform="translate(465.70 439.89) scale(1 1.18)" text-anchor="end" font-size="9" fill="#222">1,400</text><line x1="474" y1="418.32" x2="812.5" y2="418.32" stroke="#d0d0d0" stroke-width="1" stroke-dasharray="2.5 2.5"/><line x1="471" y1="418.32" x2="474" y2="418.32" stroke="#8c8c8c" stroke-width="0.8"/><text transform="translate(465.70 421.62) scale(1 1.18)" text-anchor="end" font-size="9" fill="#222">1,600</text><line x1="474" y1="400.05" x2="812.5" y2="400.05" stroke="#d0d0d0" stroke-width="1" stroke-dasharray="2.5 2.5"/><line x1="471" y1="400.05" x2="474" y2="400.05" stroke="#8c8c8c" stroke-width="0.8"/><text transform="translate(465.70 403.35) scale(1 1.18)" text-anchor="end" font-size="9" fill="#222">1,800</text><line x1="474" y1="381.77" x2="812.5" y2="381.77" stroke="#d0d0d0" stroke-width="1" stroke-dasharray="2.5 2.5"/><line x1="471" y1="381.77" x2="474" y2="381.77" stroke="#8c8c8c" stroke-width="0.8"/><text transform="translate(465.70 385.07) scale(1 1.18)" text-anchor="end" font-size="9" fill="#222">2,000</text><line x1="474" y1="363.50" x2="812.5" y2="363.50" stroke="#d0d0d0" stroke-width="1" stroke-dasharray="2.5 2.5"/><line x1="471" y1="363.50" x2="474" y2="363.50" stroke="#8c8c8c" stroke-width="0.8"/><text transform="translate(465.70 366.80) scale(1 1.18)" text-anchor="end" font-size="9" fill="#222">2,200</text><rect x="474" y="352.3" width="338.5" height="212.2" fill="none" stroke="#b4b4b4" stroke-width="1.3"/><line x1="474" y1="352.3" x2="474" y2="564.5" stroke="#939393" stroke-width="1"/><line x1="474" y1="564.5" x2="812.5" y2="564.5" stroke="#939393" stroke-width="1"/><rect x="490.30" y="361.80" width="9.7" height="202.70" fill="#3a3ae6"/><line x1="495.15" y1="565.0" x2="495.15" y2="568.0" stroke="#aaa" stroke-width="1"/><text transform="translate(495.15 581.75) scale(1 1.12)" text-anchor="middle" font-size="9.6" fill="#222">0</text><rect x="503.14" y="536.70" width="9.7" height="27.80" fill="#3a3ae6"/><line x1="507.99" y1="565.0" x2="507.99" y2="568.0" stroke="#aaa" stroke-width="1"/><text transform="translate(507.99 581.75) scale(1 1.12)" text-anchor="middle" font-size="9.6" fill="#222">1</text><rect x="515.98" y="540.50" width="9.7" height="24.00" fill="#3a3ae6"/><line x1="520.83" y1="565.0" x2="520.83" y2="568.0" stroke="#aaa" stroke-width="1"/><text transform="translate(520.83 581.75) scale(1 1.12)" text-anchor="middle" font-size="9.6" fill="#222">2</text><rect x="528.82" y="562.00" width="9.7" height="2.50" fill="#3a3ae6"/><line x1="533.67" y1="565.0" x2="533.67" y2="568.0" stroke="#aaa" stroke-width="1"/><text transform="translate(533.67 581.75) scale(1 1.12)" text-anchor="middle" font-size="9.6" fill="#222">3</text><rect x="541.66" y="562.40" width="9.7" height="2.10" fill="#3a3ae6"/><line x1="546.51" y1="565.0" x2="546.51" y2="568.0" stroke="#aaa" stroke-width="1"/><text transform="translate(546.51 581.75) scale(1 1.12)" text-anchor="middle" font-size="9.6" fill="#222">4</text><rect x="554.50" y="560.50" width="9.7" height="4.00" fill="#3a3ae6"/><line x1="559.35" y1="565.0" x2="559.35" y2="568.0" stroke="#aaa" stroke-width="1"/><text transform="translate(559.35 581.75) scale(1 1.12)" text-anchor="middle" font-size="9.6" fill="#222">5</text><rect x="567.34" y="546.50" width="9.7" height="18.00" fill="#3a3ae6"/><line x1="572.19" y1="565.0" x2="572.19" y2="568.0" stroke="#aaa" stroke-width="1"/><text transform="translate(572.19 581.75) scale(1 1.12)" text-anchor="middle" font-size="9.6" fill="#222">6</text><rect x="580.18" y="555.50" width="9.7" height="9.00" fill="#3a3ae6"/><line x1="585.03" y1="565.0" x2="585.03" y2="568.0" stroke="#aaa" stroke-width="1"/><text transform="translate(585.03 581.75) scale(1 1.12)" text-anchor="middle" font-size="9.6" fill="#222">7</text><rect x="593.02" y="541.50" width="9.7" height="23.00" fill="#3a3ae6"/><line x1="597.87" y1="565.0" x2="597.87" y2="568.0" stroke="#aaa" stroke-width="1"/><text transform="translate(597.87 581.75) scale(1 1.12)" text-anchor="middle" font-size="9.6" fill="#222">8</text><rect x="605.86" y="487.70" width="9.7" height="76.80" fill="#3a3ae6"/><line x1="610.71" y1="565.0" x2="610.71" y2="568.0" stroke="#aaa" stroke-width="1"/><text transform="translate(610.71 581.75) scale(1 1.12)" text-anchor="middle" font-size="9.6" fill="#222">9</text><line x1="623.55" y1="565.0" x2="623.55" y2="568.0" stroke="#aaa" stroke-width="1"/><text transform="translate(623.55 581.75) scale(1 1.12)" text-anchor="middle" font-size="9.6" fill="#222">10</text><rect x="631.54" y="543.60" width="9.7" height="20.90" fill="#3a3ae6"/><line x1="636.39" y1="565.0" x2="636.39" y2="568.0" stroke="#aaa" stroke-width="1"/><text transform="translate(636.39 581.75) scale(1 1.12)" text-anchor="middle" font-size="9.6" fill="#222">11</text><rect x="644.38" y="553.30" width="9.7" height="11.20" fill="#3a3ae6"/><line x1="649.23" y1="565.0" x2="649.23" y2="568.0" stroke="#aaa" stroke-width="1"/><text transform="translate(649.23 581.75) scale(1 1.12)" text-anchor="middle" font-size="9.6" fill="#222">12</text><rect x="657.22" y="552.10" width="9.7" height="12.40" fill="#3a3ae6"/><line x1="662.07" y1="565.0" x2="662.07" y2="568.0" stroke="#aaa" stroke-width="1"/><text transform="translate(662.07 581.75) scale(1 1.12)" text-anchor="middle" font-size="9.6" fill="#222">13</text><line x1="674.91" y1="565.0" x2="674.91" y2="568.0" stroke="#aaa" stroke-width="1"/><text transform="translate(674.91 581.75) scale(1 1.12)" text-anchor="middle" font-size="9.6" fill="#222">14</text><rect x="682.90" y="536.10" width="9.7" height="28.40" fill="#3a3ae6"/><line x1="687.75" y1="565.0" x2="687.75" y2="568.0" stroke="#aaa" stroke-width="1"/><text transform="translate(687.75 581.75) scale(1 1.12)" text-anchor="middle" font-size="9.6" fill="#222">15</text><rect x="695.74" y="553.70" width="9.7" height="10.80" fill="#3a3ae6"/><line x1="700.59" y1="565.0" x2="700.59" y2="568.0" stroke="#aaa" stroke-width="1"/><text transform="translate(700.59 581.75) scale(1 1.12)" text-anchor="middle" font-size="9.6" fill="#222">16</text><line x1="713.43" y1="565.0" x2="713.43" y2="568.0" stroke="#aaa" stroke-width="1"/><text transform="translate(713.43 581.75) scale(1 1.12)" text-anchor="middle" font-size="9.6" fill="#222">17</text><rect x="721.42" y="549.10" width="9.7" height="15.40" fill="#3a3ae6"/><line x1="726.27" y1="565.0" x2="726.27" y2="568.0" stroke="#aaa" stroke-width="1"/><text transform="translate(726.27 581.75) scale(1 1.12)" text-anchor="middle" font-size="9.6" fill="#222">18</text><rect x="734.26" y="558.20" width="9.7" height="6.30" fill="#3a3ae6"/><line x1="739.11" y1="565.0" x2="739.11" y2="568.0" stroke="#aaa" stroke-width="1"/><text transform="translate(739.11 581.75) scale(1 1.12)" text-anchor="middle" font-size="9.6" fill="#222">19</text><rect x="747.10" y="554.90" width="9.7" height="9.60" fill="#3a3ae6"/><line x1="751.95" y1="565.0" x2="751.95" y2="568.0" stroke="#aaa" stroke-width="1"/><text transform="translate(751.95 581.75) scale(1 1.12)" text-anchor="middle" font-size="9.6" fill="#222">20</text><rect x="759.94" y="553.70" width="9.7" height="10.80" fill="#3a3ae6"/><line x1="764.79" y1="565.0" x2="764.79" y2="568.0" stroke="#aaa" stroke-width="1"/><text transform="translate(764.79 581.75) scale(1 1.12)" text-anchor="middle" font-size="9.6" fill="#222">21</text><line x1="777.63" y1="565.0" x2="777.63" y2="568.0" stroke="#aaa" stroke-width="1"/><text transform="translate(777.63 581.75) scale(1 1.12)" text-anchor="middle" font-size="9.6" fill="#222">22</text><rect x="785.62" y="440.80" width="9.7" height="123.70" fill="#3a3ae6"/><line x1="790.47" y1="565.0" x2="790.47" y2="568.0" stroke="#aaa" stroke-width="1"/><text transform="translate(790.47 581.75) scale(1 1.12)" text-anchor="middle" font-size="9.6" fill="#222">23</text><text transform="translate(642.80 607.90) scale(1 1.08)" text-anchor="middle" font-size="15.4" fill="#222">Trades / Hour</text><rect x="830" y="344" width="395" height="0.8" fill="#eeeeee"/><rect x="829.5" y="344" width="1.2" height="276" fill="#a9a9a9"/><rect x="1223.5" y="344" width="1.2" height="276" fill="#b0b0b0"/><rect x="830" y="619" width="395" height="1.4" fill="#a9a9a9"/><line x1="872.6" y1="526.90" x2="875.6" y2="526.90" stroke="#8c8c8c" stroke-width="0.8"/><text transform="translate(867.00 530.20) scale(1 1.18)" text-anchor="end" font-size="9" fill="#222">0</text><line x1="875.6" y1="501.73" x2="1214.2" y2="501.73" stroke="#d0d0d0" stroke-width="1" stroke-dasharray="2.5 2.5"/><line x1="872.6" y1="501.73" x2="875.6" y2="501.73" stroke="#8c8c8c" stroke-width="0.8"/><text transform="translate(867.00 505.04) scale(1 1.18)" text-anchor="end" font-size="9" fill="#222">200</text><line x1="875.6" y1="476.57" x2="1214.2" y2="476.57" stroke="#d0d0d0" stroke-width="1" stroke-dasharray="2.5 2.5"/><line x1="872.6" y1="476.57" x2="875.6" y2="476.57" stroke="#8c8c8c" stroke-width="0.8"/><text transform="translate(867.00 479.87) scale(1 1.18)" text-anchor="end" font-size="9" fill="#222">400</text><line x1="875.6" y1="451.40" x2="1214.2" y2="451.40" stroke="#d0d0d0" stroke-width="1" stroke-dasharray="2.5 2.5"/><line x1="872.6" y1="451.40" x2="875.6" y2="451.40" stroke="#8c8c8c" stroke-width="0.8"/><text transform="translate(867.00 454.70) scale(1 1.18)" text-anchor="end" font-size="9" fill="#222">600</text><line x1="875.6" y1="426.23" x2="1214.2" y2="426.23" stroke="#d0d0d0" stroke-width="1" stroke-dasharray="2.5 2.5"/><line x1="872.6" y1="426.23" x2="875.6" y2="426.23" stroke="#8c8c8c" stroke-width="0.8"/><text transform="translate(867.00 429.54) scale(1 1.18)" text-anchor="end" font-size="9" fill="#222">800</text><line x1="875.6" y1="401.07" x2="1214.2" y2="401.07" stroke="#d0d0d0" stroke-width="1" stroke-dasharray="2.5 2.5"/><line x1="872.6" y1="401.07" x2="875.6" y2="401.07" stroke="#8c8c8c" stroke-width="0.8"/><text transform="translate(867.00 404.37) scale(1 1.18)" text-anchor="end" font-size="9" fill="#222">1,000</text><line x1="875.6" y1="375.90" x2="1214.2" y2="375.90" stroke="#d0d0d0" stroke-width="1" stroke-dasharray="2.5 2.5"/><line x1="872.6" y1="375.90" x2="875.6" y2="375.90" stroke="#8c8c8c" stroke-width="0.8"/><text transform="translate(867.00 379.20) scale(1 1.18)" text-anchor="end" font-size="9" fill="#222">1,200</text><rect x="875.6" y="352.3" width="338.6" height="174.59999999999997" fill="none" stroke="#b4b4b4" stroke-width="1.3"/><line x1="875.6" y1="352.3" x2="875.6" y2="526.9" stroke="#939393" stroke-width="1"/><line x1="875.6" y1="526.9" x2="1214.2" y2="526.9" stroke="#939393" stroke-width="1"/><rect x="891.80" y="510.30" width="17.1" height="16.60" fill="#3a3ae6"/><line x1="900.35" y1="527.4" x2="900.35" y2="530.4" stroke="#aaa" stroke-width="1"/><text transform="translate(905.25,533.6) rotate(-90)" x="0" y="0" text-anchor="end" font-size="13.5" fill="#222">5 mins</text><rect x="913.90" y="510.30" width="17.1" height="16.60" fill="#3a3ae6"/><line x1="922.45" y1="527.4" x2="922.45" y2="530.4" stroke="#aaa" stroke-width="1"/><text transform="translate(927.35,533.6) rotate(-90)" x="0" y="0" text-anchor="end" font-size="13.5" fill="#222">10 mins</text><rect x="936.00" y="508.20" width="17.1" height="18.70" fill="#3a3ae6"/><line x1="944.55" y1="527.4" x2="944.55" y2="530.4" stroke="#aaa" stroke-width="1"/><text transform="translate(949.45,533.6) rotate(-90)" x="0" y="0" text-anchor="end" font-size="13.5" fill="#222">15 mins</text><rect x="958.10" y="477.40" width="17.1" height="49.50" fill="#3a3ae6"/><line x1="966.65" y1="527.4" x2="966.65" y2="530.4" stroke="#aaa" stroke-width="1"/><text transform="translate(971.55,533.6) rotate(-90)" x="0" y="0" text-anchor="end" font-size="13.5" fill="#222">30 mins</text><rect x="980.20" y="431.50" width="17.1" height="95.40" fill="#3a3ae6"/><line x1="988.75" y1="527.4" x2="988.75" y2="530.4" stroke="#aaa" stroke-width="1"/><text transform="translate(993.65,533.6) rotate(-90)" x="0" y="0" text-anchor="end" font-size="13.5" fill="#222">1 hours</text><rect x="1002.30" y="393.20" width="17.1" height="133.70" fill="#3a3ae6"/><line x1="1010.85" y1="527.4" x2="1010.85" y2="530.4" stroke="#aaa" stroke-width="1"/><text transform="translate(1015.75,533.6) rotate(-90)" x="0" y="0" text-anchor="end" font-size="13.5" fill="#222">2 hours</text><rect x="1024.40" y="373.80" width="17.1" height="153.10" fill="#3a3ae6"/><line x1="1032.95" y1="527.4" x2="1032.95" y2="530.4" stroke="#aaa" stroke-width="1"/><text transform="translate(1037.85,533.6) rotate(-90)" x="0" y="0" text-anchor="end" font-size="13.5" fill="#222">4 hours</text><rect x="1046.50" y="402.70" width="17.1" height="124.20" fill="#3a3ae6"/><line x1="1055.05" y1="527.4" x2="1055.05" y2="530.4" stroke="#aaa" stroke-width="1"/><text transform="translate(1059.95,533.6) rotate(-90)" x="0" y="0" text-anchor="end" font-size="13.5" fill="#222">8 hours</text><rect x="1068.60" y="359.70" width="17.1" height="167.20" fill="#3a3ae6"/><line x1="1077.15" y1="527.4" x2="1077.15" y2="530.4" stroke="#aaa" stroke-width="1"/><text transform="translate(1082.05,533.6) rotate(-90)" x="0" y="0" text-anchor="end" font-size="13.5" fill="#222">16 hours</text><rect x="1090.70" y="503.50" width="17.1" height="23.40" fill="#3a3ae6"/><line x1="1099.25" y1="527.4" x2="1099.25" y2="530.4" stroke="#aaa" stroke-width="1"/><text transform="translate(1104.15,533.6) rotate(-90)" x="0" y="0" text-anchor="end" font-size="13.5" fill="#222">18 hours</text><rect x="1112.80" y="505.90" width="17.1" height="21.00" fill="#3a3ae6"/><line x1="1121.35" y1="527.4" x2="1121.35" y2="530.4" stroke="#aaa" stroke-width="1"/><text transform="translate(1126.25,533.6) rotate(-90)" x="0" y="0" text-anchor="end" font-size="13.5" fill="#222">22 hours</text><rect x="1134.90" y="520.00" width="17.1" height="6.90" fill="#3a3ae6"/><line x1="1143.45" y1="527.4" x2="1143.45" y2="530.4" stroke="#aaa" stroke-width="1"/><text transform="translate(1148.35,533.6) rotate(-90)" x="0" y="0" text-anchor="end" font-size="13.5" fill="#222">1 days</text><rect x="1157.00" y="470.00" width="17.1" height="56.90" fill="#3a3ae6"/><line x1="1165.55" y1="527.4" x2="1165.55" y2="530.4" stroke="#aaa" stroke-width="1"/><text transform="translate(1170.45,533.6) rotate(-90)" x="0" y="0" text-anchor="end" font-size="13.5" fill="#222">4 days</text><rect x="1179.10" y="525.30" width="17.1" height="1.60" fill="#3a3ae6"/><line x1="1187.65" y1="527.4" x2="1187.65" y2="530.4" stroke="#aaa" stroke-width="1"/><text transform="translate(1192.55,533.6) rotate(-90)" x="0" y="0" text-anchor="end" font-size="13.5" fill="#222">8 days</text><text transform="translate(1044.30 607.70) scale(1 1.08)" text-anchor="middle" font-size="15.4" fill="#222">Trades / Time</text></svg>
</body></html>
